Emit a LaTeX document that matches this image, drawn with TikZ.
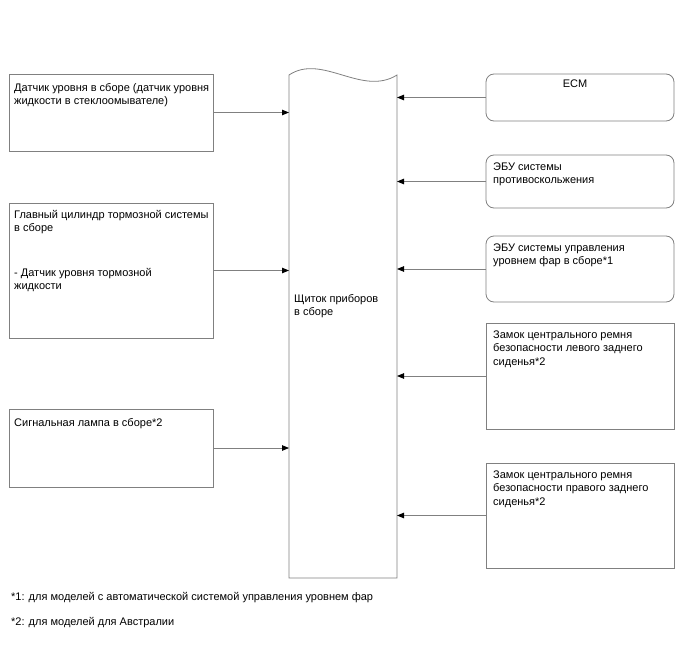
\documentclass[tikz,border=0pt]{standalone}
\usepackage{fontspec}
\setmainfont{Liberation Sans}
\usetikzlibrary{arrows.meta}
\definecolor{linegray}{HTML}{808080}
\newcommand{\fs}{\fontsize{11}{13.5}\selectfont}
\tikzset{
  box/.style={draw=linegray, line width=0.8pt, rectangle, inner sep=0pt, outer sep=0pt, anchor=north west},
  rbox/.style={box, rounded corners=8pt},
  txt/.style={anchor=north west, inner sep=0pt, align=left, font=\fs},
  arr/.style={draw=linegray, line width=0.8pt, -{Triangle[length=7pt,width=5.5pt,color=black]}}
}
\begin{document}
\begin{tikzpicture}[x=1pt,y=-1pt]
\useasboundingbox (0,0) rectangle (688,658);
% left boxes
\node[box, minimum width=204pt, minimum height=77pt] (l1) at (9,74) {};
\node[txt] (l1t) at (14,81.5) {\strut Датчик уровня в сборе (датчик уровня\\жидкости в стеклоомывателе)};
\node[box, minimum width=204pt, minimum height=135pt] (l2) at (9,203) {};
\node[txt] (l2t) at (14,208.5) {\strut Главный цилиндр тормозной системы\\в сборе\\[31pt]- Датчик уровня тормозной\\жидкости};
\node[box, minimum width=204pt, minimum height=78pt] (l3) at (9,409) {};
\node[txt] (l3t) at (14,416.5) {\strut Сигнальная лампа в сборе*2};
% center panel
\node[minimum width=108pt, minimum height=503pt, inner sep=0pt, outer sep=0pt, anchor=north west] (panel) at (289,75) {};
\draw[linegray, line width=0.8pt] (panel.north west) .. controls (322,53) and (362,97) .. (panel.north east) -- (panel.south east) -- (panel.south west) -- cycle;
\node[txt] (pt) at (294,292.5) {\strut Щиток приборов\\в сборе};
% right boxes
\node[rbox, minimum width=188pt, minimum height=47pt] (r1) at (486,74) {};
\node[anchor=base, inner sep=0pt, font=\fs] (r1t) at (575,88) {ECM};
\node[rbox, minimum width=188pt, minimum height=53pt] (r2) at (486,155) {};
\node[txt] (r2t) at (493,160.5) {\strut ЭБУ системы\\противоскольжения};
\node[rbox, minimum width=188pt, minimum height=66pt] (r3) at (486,236) {};
\node[txt] (r3t) at (493,241.5) {\strut ЭБУ системы управления\\уровнем фар в сборе*1};
\node[box, minimum width=188pt, minimum height=106pt] (r4) at (486,323) {};
\node[txt] (r4t) at (493,328.5) {\strut Замок центрального ремня\\безопасности левого заднего\\сиденья*2};
\node[box, minimum width=188pt, minimum height=105pt] (r5) at (486,463) {};
\node[txt] (r5t) at (493,468.5) {\strut Замок центрального ремня\\безопасности правого заднего\\сиденья*2};
% arrows
\draw[arr] (l1.east) -- (l1.east -| panel.west);
\draw[arr] (l2.east) -- (l2.east -| panel.west);
\draw[arr] (l3.east) -- (l3.east -| panel.west);
\draw[arr] (r1.west) -- (r1.west -| panel.east);
\draw[arr] (r2.west) -- (r2.west -| panel.east);
\draw[arr] (r3.west) -- (r3.west -| panel.east);
\draw[arr] (r4.west) -- (r4.west -| panel.east);
\draw[arr] (r5.west) -- (r5.west -| panel.east);
% footnotes
\node[txt] (f1) at (11,590.5) {\strut *1: для моделей с автоматической системой управления уровнем фар};
\node[txt] (f2) at (11,615.5) {\strut *2: для моделей для Австралии};
\end{tikzpicture}
\end{document}
